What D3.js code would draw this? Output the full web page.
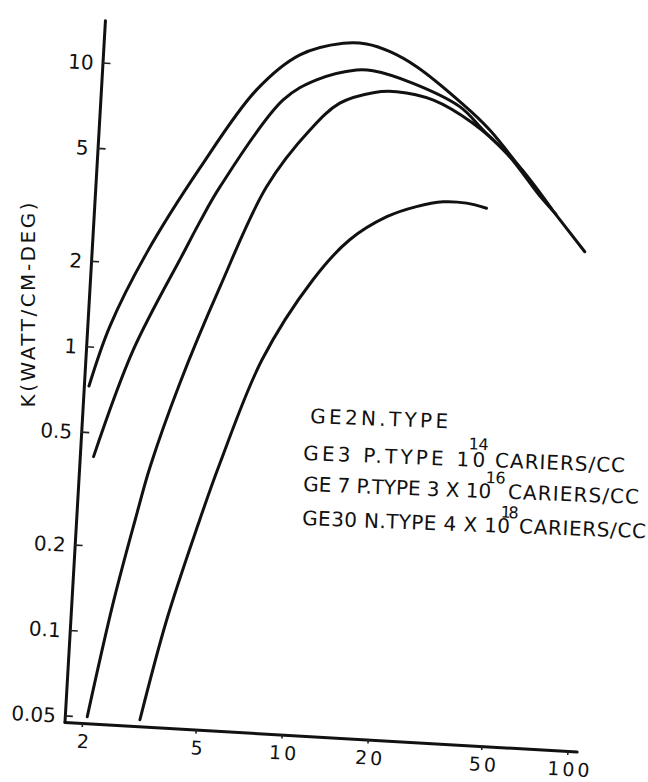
<!DOCTYPE html>
<html>
<head>
<meta charset="utf-8">
<script src="https://cdn.jsdelivr.net/npm/d3@7"></script>
<style>
  body { margin: 0; background: #fff; }
  svg { display: block; }
  text { font-family: "DejaVu Sans", sans-serif; fill: #111; }
</style>
</head>
<body>
<div id="chart"></div>
<script>

//tick values on both log axes
var xTicks = [2, 5, 10, 20, 50, 100];
var yTicks = [0.05, 0.1, 0.2, 0.5, 1, 2, 5, 10];

//curves: temperature (deg K) and K (watt/cm-deg)
var ge2T = [1.81, 2.08, 2.70, 3.99, 6.06, 8.45, 11.9, 14.35, 17.4, 21.7, 31.2, 40.2, 67.4, 91.2];
var ge2K = [0.726, 1.185, 2.18, 4.46, 8.61, 11.66, 13.07, 13.14, 12.48, 11.19, 8.61, 6.94, 3.84, 2.71];

var ge3T = [1.94, 2.54, 3.63, 4.09, 4.73, 7.54, 9.77, 13.4, 15.3, 21.25, 31.25, 38.1, 52.0, 68.6];
var ge3K = [0.411, 0.992, 2.22, 2.89, 3.87, 8.04, 9.60, 10.6, 10.62, 9.77, 8.27, 6.92, 5.22, 3.77];

var ge7T = [2.08, 2.43, 2.79, 3.07, 3.75, 4.95, 6.87, 9.48, 11.9, 15.5, 18.7, 25.1, 35.0, 46.4, 61.9, 71.0];
var ge7K = [0.050, 0.127, 0.251, 0.389, 0.775, 1.72, 3.95, 6.38, 8.04, 8.89, 9.06, 8.62, 7.27, 5.81, 4.17, 3.63];

var ge30T = [3.18, 3.76, 4.63, 5.37, 7.17, 10.4, 13.7, 18.3, 23.1, 28.6, 34.5, 40.6];
var ge30K = [0.050, 0.113, 0.248, 0.413, 0.971, 1.90, 2.67, 3.28, 3.61, 3.80, 3.80, 3.68];

var seriesT = [ge2T, ge3T, ge7T, ge30T];
var seriesK = [ge2K, ge3K, ge7K, ge30K];

const width = 648, height = 782;
//the scanned figure sits a little tilted, so the plot group is rotated
const origin = { x: 64.5, y: 722 };
const tilt = 3.3;

var svg = d3.select("#chart")
      .append("svg")
        .attr("width", width)
        .attr("height", height);

svg.append("rect").attr("width", width).attr("height", height).attr("fill", "#fff");

const g = svg.append("g").attr("transform", `translate(${origin.x},${origin.y}) rotate(${tilt})`);

const xscale = d3.scaleLog().domain([1.737, 107.7]).range([0, 513]);
const yscale = d3.scaleLog().domain([0.0474, 14.1]).range([0, -703]);

const xaxis = d3.axisBottom(xscale).tickValues(xTicks).tickSizeInner(4).tickSizeOuter(0)
      .tickPadding(8).tickFormat((d) => String(d));
const yaxis = d3.axisLeft(yscale).tickValues(yTicks).tickSizeInner(-8).tickSizeOuter(0)
      .tickPadding(9).tickFormat((d) => String(d));

const g_xaxis = g.append("g").call(xaxis);
const g_yaxis = g.append("g").call(yaxis);

//axis styling, heavy inked lines
[g_xaxis, g_yaxis].forEach(function(a){
  a.attr("font-family", null).attr("font-size", null);
  a.select(".domain").attr("stroke", "#111").attr("stroke-width", 3).attr("stroke-linecap", "round");
  a.selectAll(".tick line").attr("stroke", "#222").attr("stroke-width", 1.6);
  a.selectAll(".tick text").attr("fill", "#111").style("font-size", "20px");
});
g_xaxis.selectAll(".tick text").attr("dy", null).attr("y", 25).attr("dx", 3)
  .style("font-size", "19px").style("letter-spacing", "3px");
g_yaxis.selectAll(".tick text").attr("dy", "0.36em");

//curves
const line = d3.line()
      .x((d) => xscale(d[0]))
      .y((d) => yscale(d[1]))
      .curve(d3.curveCatmullRom.alpha(0.5));

g.selectAll("path.curve")
  .data(seriesT.map((t, i) => t.map((v, j) => [v, seriesK[i][j]])))
  .join("path")
    .attr("class", "curve")
    .attr("d", line)
    .attr("fill", "none")
    .attr("stroke", "#111")
    .attr("stroke-width", 3)
    .attr("stroke-linecap", "round");

//y axis title
svg.append("text")
  .attr("transform", "translate(35,305) rotate(-90)")
  .attr("text-anchor", "middle")
  .attr("textLength", 205)
  .attr("lengthAdjust", "spacing")
  .style("font-size", "20px")
  .text("K(WATT/CM-DEG)");

//legend, typed lines with raised exponents
function legendLine(x0, y0, parts){
  const lg = svg.append("g").attr("transform", `translate(${x0},${y0}) rotate(2.2)`);
  parts.forEach(function(p){
    lg.append("text")
      .attr("x", p[1]).attr("y", p[2])
      .attr("textLength", p[3]).attr("lengthAdjust", "spacing")
      .style("font-size", p[4] + "px")
      .text(p[0]);
  });
}
legendLine(310, 423, [["GE2N.TYPE", 0, 0, 138, 20]]);
legendLine(303, 460, [["GE3 P.TYPE 10", 0, 0, 182, 20], ["14", 165, -17, 20, 16], ["CARIERS/CC", 192, 0, 130, 20]]);
legendLine(303, 491, [["GE 7 P.TYPE 3 X 10", 0, 0, 188, 20], ["16", 182, -15, 20, 16], ["CARIERS/CC", 205, 0, 131, 20]]);
legendLine(302, 525, [["GE30 N.TYPE 4 X 10", 0, 0, 208, 20], ["18", 198, -15, 18, 16], ["CARIERS/CC", 217, 0, 127, 20]]);

</script>
</body>
</html>
